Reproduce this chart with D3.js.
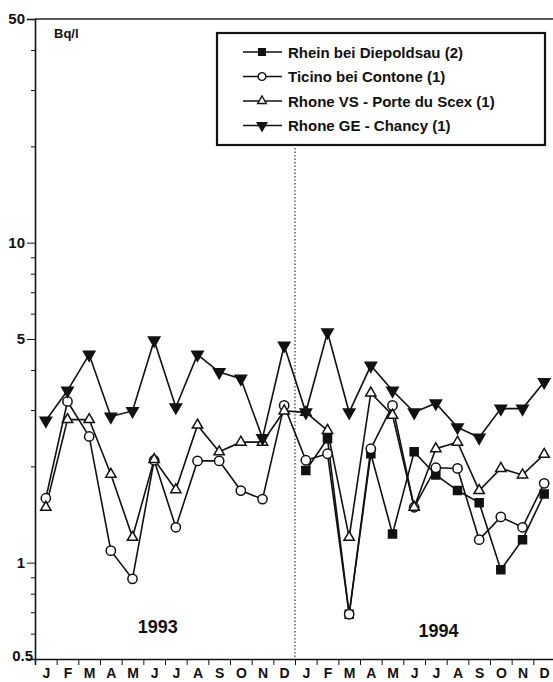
<!DOCTYPE html>
<html>
<head>
<meta charset="utf-8">
<script src="https://cdn.jsdelivr.net/npm/d3@7"></script>
<style>
  html, body { margin: 0; padding: 0; background: #fff; }
  svg { display: block; font-family: "Liberation Sans", Arial, sans-serif; }
  .axis path, .axis line { stroke: #111; }
  .axis text { fill: #111; font-weight: bold; }
</style>
</head>
<body>
<svg id="chart" width="553" height="682"></svg>
<script>
// Monthly tritium activity (Bq/l), Jan 1993 – Dec 1994
const monthLabels = ["J","F","M","A","M","J","J","A","S","O","N","D",
                     "J","F","M","A","M","J","J","A","S","O","N","D"];

const rhein  = [null, null, null, null, null, null, null, null, null, null, null, null,
                1.94, 2.44, 0.69, 2.19, 1.23, 2.22, 1.88, 1.68, 1.54, 0.95, 1.18, 1.64];
const ticino = [1.59, 3.19, 2.48, 1.09, 0.89, 2.09, 1.29, 2.08, 2.08, 1.68, 1.58, 3.10,
                2.09, 2.19, 0.69, 2.27, 3.10, 1.49, 1.98, 1.97, 1.18, 1.39, 1.29, 1.77];
const rhoneVS = [1.49, 2.80, 2.80, 1.89, 1.20, 2.10, 1.69, 2.69, 2.22, 2.38, 2.38, 2.98,
                 2.95, 2.59, 1.20, 3.39, 2.89, 1.49, 2.27, 2.38, 1.68, 1.97, 1.88, 2.18];
const chancy = [2.78, 3.45, 4.47, 2.86, 2.98, 4.95, 3.06, 4.47, 3.94, 3.76, 2.45, 4.77,
                2.95, 5.25, 2.95, 4.13, 3.45, 2.95, 3.15, 2.65, 2.46, 3.03, 3.03, 3.67];

const seriesNames = ["Rhein bei Diepoldsau (2)", "Ticino bei Contone (1)",
                     "Rhone VS - Porte du Scex (1)", "Rhone GE - Chancy (1)"];
const yMajorTicks = [0.5, 1, 5, 10, 50];
const yMinorTicks = [0.6, 0.7, 0.8, 0.9, 2, 3, 4, 6, 7, 8, 9, 20, 30, 40];
const yearLabels = ["1993", "1994"];
const unitLabel = "Bq/l";

const svg = d3.select("#chart");
const plotLeft = 35, plotRight = 555, plotTop = 19, plotBottom = 659;

const x = d3.scaleLinear().domain([0, 24]).range([plotLeft, plotRight]);
const y = d3.scaleLog().domain([0.5, 50]).range([plotBottom, plotTop]);
const cx = i => x(i + 0.5);

// frame: top rule
svg.append("line").attr("x1", plotLeft).attr("x2", 553).attr("y1", plotTop).attr("y2", plotTop)
  .attr("stroke", "#222").attr("stroke-width", 1.6);

// y axis: majors with labels, minors without
const yMajor = svg.append("g").attr("class", "axis").attr("transform", `translate(${plotLeft},0)`)
  .call(d3.axisLeft(y).tickValues(yMajorTicks).tickSize(8).tickPadding(2)
    .tickFormat(d => String(d)));
yMajor.selectAll("text").style("font-size", "15px");
yMajor.selectAll(".tick").filter(d => d === 0.5).select("text").attr("x", -2).attr("dy", "0.1em");
yMajor.select(".domain").attr("stroke-width", 1.6);
svg.append("g").attr("class", "axis").attr("transform", `translate(${plotLeft},0)`)
  .call(d3.axisLeft(y).tickValues(yMinorTicks).tickSize(4).tickFormat(""))
  .select(".domain").remove();

// x axis: ticks at month boundaries, labels centred in each month
const xTicks = svg.append("g").attr("class", "axis").attr("transform", `translate(0,${plotBottom})`)
  .call(d3.axisBottom(x).tickValues(d3.range(1, 25)).tickSize(6).tickFormat(""));
xTicks.select(".domain").attr("stroke-width", 1.6);
const xLab = svg.append("g").attr("class", "axis").attr("transform", `translate(0,${plotBottom})`)
  .call(d3.axisBottom(x).tickValues(d3.range(24).map(i => i + 0.5)).tickSize(0).tickPadding(9)
    .tickFormat(d => monthLabels[Math.floor(d)]));
xLab.select(".domain").remove();
xLab.selectAll("text").style("font-size", "14px");

// year separator
svg.append("line").attr("x1", x(12)).attr("x2", x(12)).attr("y1", 148).attr("y2", plotBottom)
  .attr("stroke", "#222").attr("stroke-width", 1.1).attr("stroke-dasharray", "1.5,2");

// unit and year labels
svg.append("text").attr("x", 54).attr("y", 38).text(unitLabel)
  .style("font-size", "13px").style("font-weight", "bold").attr("fill", "#111");
svg.append("text").attr("x", x(5.67)).attr("y", 633).attr("text-anchor", "middle").text(yearLabels[0])
  .style("font-size", "18px").style("font-weight", "bold").attr("fill", "#111");
svg.append("text").attr("x", x(18.62)).attr("y", 637).attr("text-anchor", "middle").text(yearLabels[1])
  .style("font-size", "18px").style("font-weight", "bold").attr("fill", "#111");

// series styles (drawing order = listing order)
const series = [
  { name: seriesNames[0], values: rhein,   shape: d3.symbolSquare,   size: 64, fill: "#111", rot: 0 },
  { name: seriesNames[1], values: ticino,  shape: d3.symbolCircle,   size: 68, fill: "#fff", rot: 0 },
  { name: seriesNames[2], values: rhoneVS, shape: d3.symbolTriangle, size: 46, fill: "#fff", rot: 0 },
  { name: seriesNames[3], values: chancy,  shape: d3.symbolTriangle, size: 56, fill: "#111", rot: 180 }
];

const line = d3.line().defined(d => d != null).x((d, i) => cx(i)).y(d => y(d));

series.forEach(s => {
  svg.append("path").datum(s.values).attr("d", line)
    .attr("fill", "none").attr("stroke", "#111").attr("stroke-width", 1.6);
});
series.forEach(s => {
  const sym = d3.symbol().type(s.shape).size(s.size);
  svg.append("g").selectAll("path")
    .data(s.values.map((v, i) => ({ v, i })).filter(d => d.v != null))
    .join("path")
    .attr("d", sym)
    .attr("transform", d => `translate(${cx(d.i)},${y(d.v)}) rotate(${s.rot})`)
    .attr("fill", s.fill).attr("stroke", "#111").attr("stroke-width", 1.5);
});

// legend
const lg = svg.append("g");
lg.append("rect").attr("x", 217).attr("y", 33).attr("width", 328).attr("height", 112)
  .attr("fill", "#fff").attr("stroke", "#111").attr("stroke-width", 2.2);
series.forEach((s, k) => {
  const yy = 52 + k * 24.5;
  lg.append("line").attr("x1", 243).attr("x2", 282).attr("y1", yy).attr("y2", yy)
    .attr("stroke", "#111").attr("stroke-width", 1.5);
  lg.append("path").attr("d", d3.symbol().type(s.shape).size(s.size * 0.7))
    .attr("transform", `translate(262,${yy}) rotate(${s.rot})`)
    .attr("fill", s.fill).attr("stroke", "#111").attr("stroke-width", 1.4);
  lg.append("text").attr("x", 288).attr("y", yy + 5.5).text(s.name)
    .style("font-size", "15px").style("font-weight", "bold").attr("fill", "#111");
});
</script>
</body>
</html>
